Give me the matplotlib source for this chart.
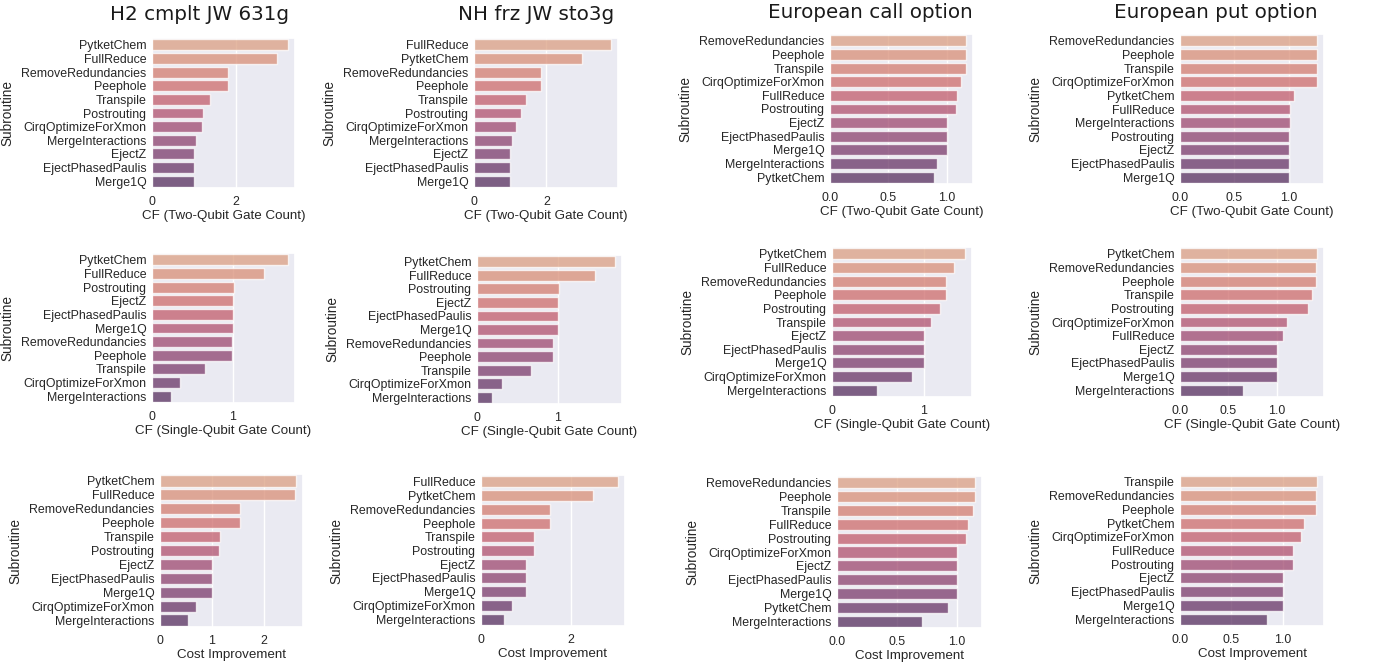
import matplotlib
matplotlib.use("Agg")
import matplotlib.pyplot as plt
from matplotlib.ticker import MultipleLocator
import seaborn as sns

# --- H2 cmplt JW 631g ---
h2_two_names = ["PytketChem", "FullReduce", "RemoveRedundancies", "Peephole", "Transpile",
                "Postrouting", "CirqOptimizeForXmon", "MergeInteractions", "EjectZ",
                "EjectPhasedPaulis", "Merge1Q"]
h2_two = [3.26, 3.00, 1.83, 1.83, 1.40, 1.22, 1.19, 1.05, 1.0, 1.0, 1.0]
h2_single_names = ["PytketChem", "FullReduce", "Postrouting", "EjectZ", "EjectPhasedPaulis",
                   "Merge1Q", "RemoveRedundancies", "Peephole", "Transpile",
                   "CirqOptimizeForXmon", "MergeInteractions"]
h2_single = [1.685, 1.39, 1.02, 1.0, 1.0, 1.0, 0.985, 0.985, 0.656, 0.35, 0.23]
h2_cost_names = ["PytketChem", "FullReduce", "RemoveRedundancies", "Peephole", "Transpile",
                 "Postrouting", "EjectZ", "EjectPhasedPaulis", "Merge1Q",
                 "CirqOptimizeForXmon", "MergeInteractions"]
h2_cost = [2.625, 2.60, 1.535, 1.535, 1.153, 1.134, 1.0, 1.0, 1.0, 0.70, 0.547]

# --- NH frz JW sto3g ---
nh_two_names = ["FullReduce", "PytketChem", "RemoveRedundancies", "Peephole", "Transpile",
                "Postrouting", "CirqOptimizeForXmon", "MergeInteractions", "EjectZ",
                "EjectPhasedPaulis", "Merge1Q"]
nh_two = [3.79, 2.98, 1.85, 1.85, 1.44, 1.29, 1.16, 1.05, 1.0, 1.0, 1.0]
nh_single_names = ["PytketChem", "FullReduce", "Postrouting", "EjectZ", "EjectPhasedPaulis",
                   "Merge1Q", "RemoveRedundancies", "Peephole", "Transpile",
                   "CirqOptimizeForXmon", "MergeInteractions"]
nh_single = [1.714, 1.46, 1.02, 1.0, 1.0, 1.0, 0.946, 0.946, 0.667, 0.315, 0.19]
nh_cost_names = ["FullReduce", "PytketChem", "RemoveRedundancies", "Peephole", "Transpile",
                 "Postrouting", "EjectZ", "EjectPhasedPaulis", "Merge1Q",
                 "CirqOptimizeForXmon", "MergeInteractions"]
nh_cost = [3.06, 2.50, 1.54, 1.54, 1.19, 1.18, 1.0, 1.0, 1.0, 0.70, 0.52]

# --- European call option ---
call_two_names = ["RemoveRedundancies", "Peephole", "Transpile", "CirqOptimizeForXmon",
                  "FullReduce", "Postrouting", "EjectZ", "EjectPhasedPaulis", "Merge1Q",
                  "MergeInteractions", "PytketChem"]
call_two = [1.165, 1.165, 1.165, 1.12, 1.09, 1.074, 1.0, 1.0, 1.0, 0.917, 0.887]
call_single_names = ["PytketChem", "FullReduce", "RemoveRedundancies", "Peephole",
                     "Postrouting", "Transpile", "EjectZ", "EjectPhasedPaulis", "Merge1Q",
                     "CirqOptimizeForXmon", "MergeInteractions"]
call_single = [1.45, 1.33, 1.236, 1.236, 1.17, 1.08, 1.0, 1.0, 1.0, 0.87, 0.49]
call_cost_names = ["RemoveRedundancies", "Peephole", "Transpile", "FullReduce", "Postrouting",
                   "CirqOptimizeForXmon", "EjectZ", "EjectPhasedPaulis", "Merge1Q",
                   "PytketChem", "MergeInteractions"]
call_cost = [1.154, 1.154, 1.137, 1.093, 1.078, 1.006, 1.0, 1.0, 1.0, 0.928, 0.712]

# --- European put option ---
put_two_names = ["RemoveRedundancies", "Peephole", "Transpile", "CirqOptimizeForXmon",
                 "PytketChem", "FullReduce", "MergeInteractions", "Postrouting", "EjectZ",
                 "EjectPhasedPaulis", "Merge1Q"]
put_two = [1.258, 1.258, 1.26, 1.26, 1.043, 1.01, 1.01, 0.998, 1.0, 1.0, 1.0]
put_single_names = ["PytketChem", "RemoveRedundancies", "Peephole", "Transpile", "Postrouting",
                    "CirqOptimizeForXmon", "FullReduce", "EjectZ", "EjectPhasedPaulis",
                    "Merge1Q", "MergeInteractions"]
put_single = [1.414, 1.40, 1.40, 1.36, 1.32, 1.10, 1.062, 1.0, 1.0, 1.0, 0.65]
put_cost_names = ["Transpile", "RemoveRedundancies", "Peephole", "PytketChem",
                  "CirqOptimizeForXmon", "FullReduce", "Postrouting", "EjectZ",
                  "EjectPhasedPaulis", "Merge1Q", "MergeInteractions"]
put_cost = [1.333, 1.323, 1.323, 1.204, 1.18, 1.097, 1.094, 1.0, 1.0, 1.0, 0.845]

titles = ["H2 cmplt JW 631g", "NH frz JW sto3g", "European call option", "European put option"]
xlabels = ["CF (Two-Qubit Gate Count)", "CF (Single-Qubit Gate Count)", "Cost Improvement"]

panels = [
    [(h2_two_names, h2_two), (nh_two_names, nh_two), (call_two_names, call_two), (put_two_names, put_two)],
    [(h2_single_names, h2_single), (nh_single_names, nh_single), (call_single_names, call_single), (put_single_names, put_single)],
    [(h2_cost_names, h2_cost), (nh_cost_names, nh_cost), (call_cost_names, call_cost), (put_cost_names, put_cost)],
]
tick_steps = [[2, 2, 0.5, 0.5],
              [1, 1, 1, 0.5],
              [1, 2, 0.5, 0.5]]

# axes boxes in pixels: x0, x1, y0 (top), y1 (bottom)
boxes = [
    [(152, 295, 38, 188), (474, 618, 38, 188), (830, 973, 34, 184), (1180, 1324, 34, 184)],
    [(152, 295, 253, 403), (477, 622, 255, 404), (832, 972, 247, 397), (1180, 1324, 247, 397)],
    [(160, 303, 474, 627), (481, 625, 475, 626), (837, 982, 476, 628), (1180, 1324, 475, 626)],
]
title_pos = [(199, 19.5), (536, 19.5), (870, 18), (1216, 18)]

W, H = 1375, 669
sns.set_theme(style="darkgrid")
plt.rcParams["font.family"] = ["Liberation Sans", "DejaVu Sans"]

fig = plt.figure(figsize=(W / 100, H / 100), dpi=100)
# seaborn's barplot default saturation of 0.75
palette = [sns.desaturate(c, 0.75) for c in sns.color_palette("flare", 11)]

for r in range(3):
    for c in range(4):
        names, vals = panels[r][c]
        x0, x1, y0, y1 = boxes[r][c]
        ax = fig.add_axes([x0 / W, 1 - y1 / H, (x1 - x0) / W, (y1 - y0) / H])
        ax.barh(range(len(vals)), vals, height=0.8, color=palette,
                edgecolor="white", linewidth=1, alpha=0.75)
        ax.set_yticks(range(len(names)))
        ax.set_yticklabels(names)
        ax.set_ylim(len(names) - 0.5, -0.5)
        ax.set_xlim(0, max(vals) * 1.05)
        ax.xaxis.set_major_locator(MultipleLocator(tick_steps[r][c]))
        ax.tick_params(axis="both", length=0, labelsize=8.9, colors="0.15")
        ax.tick_params(axis="x", pad=5.5)
        ax.tick_params(axis="y", pad=4)
        ax.yaxis.grid(False)
        ax.set_axisbelow(True)
        ax.set_xlabel(xlabels[r], fontsize=9.6, color="0.15", labelpad=1.5)
        ax.set_ylabel("Subroutine", fontsize=9.8, color="0.15", labelpad=5)

for (tx, ty), t in zip(title_pos, titles):
    fig.text(tx / W, 1 - ty / H, t, ha="center", va="baseline",
             fontsize=14.3, family="DejaVu Sans", color="0.1")

fig.savefig("out.png", dpi=100)
